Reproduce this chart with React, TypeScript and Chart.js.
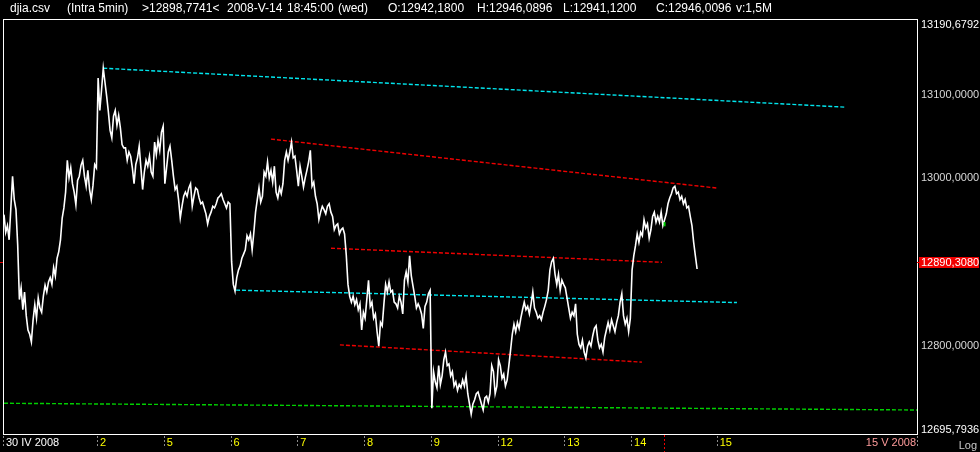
import React, { useEffect, useRef } from "react";
import { Chart, registerables } from "chart.js";

Chart.register(...registerables);

// ---- Data: DJIA, 10-minute samples (one array per session) ----
const pricesApr30May1 = [
  12955, 12934, 12942, 12925, 12963, 13001, 12973, 12961, 12919, 12854,
  12868, 12842, 12863, 12835, 12818, 12813, 12804, 12830, 12848, 12832,
  12856, 12844, 12839, 12858, 12871, 12863, 12875, 12880, 12872, 12892,
  12882, 12903, 12911, 12925, 12951, 12963, 12982, 13020, 12999, 13011,
  12992, 12982, 12967, 12996, 13001, 13014, 13020, 13001, 12989, 13008,
  12985, 12973, 12990, 13015, 13011,
];
const pricesMay2 = [
  13119, 13080, 13105, 13131, 13114,
  13097, 13078, 13056, 13047, 13073, 13080, 13062, 13074, 13059, 13039,
  13035, 13035, 13020, 13030, 13025, 13011, 12992, 13015, 13023, 13037,
  13011, 12985, 13006, 13020, 13013, 13025, 13006, 13001, 13042, 13027,
  13044, 13032, 13054, 13061,
];
const pricesMay5 = [
  12992, 13011, 13030, 13037, 13020, 13001,
  12985, 12989, 12973, 12951, 12965, 12977, 12982, 12977, 12987, 12992,
  12965, 12977, 12987, 12985, 12975, 12968, 12970, 12963, 12956, 12944,
  12953, 12958, 12965, 12963, 12968, 12975, 12977, 12980, 12973, 12968,
  12963, 12970, 12968,
];
const pricesMay6 = [
  12899, 12872, 12864, 12880, 12889, 12894, 12903,
  12908, 12913, 12930, 12925, 12932, 12913, 12934, 12958, 12973, 12987,
  12970, 12977, 13006, 13001, 13018, 12999, 13008, 12994, 13013, 12982,
  12975, 12987, 12980, 12992, 13020, 13030, 13020, 13030, 13042, 13023,
  13025, 13008,
];
const pricesMay7 = [
  12989, 13013, 13001, 12988, 12999, 13008, 13018, 13032,
  12989, 12994, 12977, 12968, 12949, 12958, 12965, 12961, 12956, 12965,
  12968, 12958, 12953, 12937, 12942, 12944, 12932, 12937, 12939, 12932,
  12907, 12872, 12858, 12851, 12858, 12848, 12854, 12842, 12849, 12818,
  12839,
];
const pricesMay8 = [
  12832, 12854, 12877, 12846, 12851, 12832, 12837, 12816, 12799,
  12827, 12823, 12849, 12872, 12863, 12875, 12863, 12865, 12851, 12849,
  12844, 12858, 12851, 12837, 12877, 12887, 12875, 12906, 12882, 12870,
  12858, 12844, 12849, 12844, 12837, 12820, 12846, 12851, 12861, 12865,
];
const pricesMay9 = [
  12726, 12769, 12757, 12750, 12776, 12754, 12764, 12783, 12792, 12776,
  12778, 12764, 12769, 12752, 12757, 12747, 12754, 12750, 12759, 12752,
  12764, 12743, 12731, 12719, 12731, 12736, 12743, 12745, 12738, 12731,
  12724, 12738, 12740, 12733, 12743, 12776, 12769, 12743, 12752,
];
const pricesMay12 = [
  12783,
  12776, 12761, 12766, 12752, 12759, 12776, 12794, 12813, 12825, 12816,
  12827, 12820, 12832, 12842, 12851, 12842, 12846, 12837, 12849, 12863,
  12844, 12839, 12832, 12835, 12830, 12839, 12846, 12854, 12865, 12889,
  12899, 12903, 12884, 12872, 12884, 12865, 12877, 12872,
];
const pricesMay13 = [
  12868, 12856,
  12844, 12832, 12839, 12835, 12849, 12813, 12801, 12797, 12806, 12792,
  12785, 12799, 12804, 12799, 12811, 12820, 12823, 12806, 12797, 12801,
  12792, 12809, 12818, 12827, 12818, 12830, 12823, 12816, 12827, 12835,
  12851, 12861, 12835, 12825, 12832, 12816, 12832,
];
const pricesMay14 = [
  12889, 12906, 12918,
  12932, 12922, 12934, 12930, 12949, 12939, 12944, 12927, 12937, 12953,
  12958, 12946, 12953, 12946, 12958, 12942, 12949, 12956, 12968, 12975,
  12980, 12987, 12989, 12980, 12982, 12973, 12977, 12968, 12973, 12963,
  12965, 12953, 12942, 12922, 12906, 12890.308,
];

// Day separators (in 10-minute bar units) and their labels
const dayTickBars = [0, 55, 94, 133, 172, 211, 250, 289, 328, 367, 417];
const dayTickLabels = ["30 IV 2008", "2", "5", "6", "7", "8", "9", "12", "13", "14", "15"];
const endDateLabel = "15 V 2008";
const xMaxBar = 533.5;

// Price axis (logarithmic)
const yMin = 12695.7936;
const yMax = 13190.6792;
const yTickValues = [13100, 13000, 12800];
const lastPrice = 12890.308;
const cursorPrice = 12898.7741;

// Selected bar (title info)
const selectedBar = 386;
const selectedOpen = 12942.18;
const selectedHigh = 12946.0896;
const selectedLow = 12941.12;
const selectedClose = 12946.0096;
const titleFile = "djia.csv";
const titleInterval = "(Intra 5min)";
const titleDate = "2008-V-14";
const titleTime = "18:45:00";
const titleDay = "(wed)";
const titleVolume = "v:1,5M";

// Trend lines: [bar, price] end points
const trendCyanTop = [[58, 13131], [491, 13084]];
const trendRedUpper = [[156, 13045.5], [416.6, 12986.8]];
const trendRedMid = [[191.1, 12915.0], [384.5, 12898.3]];
const trendRedLow = [[196.3, 12800.5], [372.8, 12780.2]];
const trendCyanMid = [[135.6, 12865.2], [428.3, 12850.5]];
const trendGreen = [[0, 12731.8], [533.5, 12723.9]];

const fmt = (v: number) => v.toFixed(4).replace(".", ",");

const FONT = '"Liberation Sans", Arial, sans-serif';
const CYAN = "#00e6ee";
const RED = "#f00000";
const GREEN = "#00d000";

const overlayPlugin = {
  id: "overlay",
  beforeDraw(chart: any) {
    const ctx = chart.ctx;
    ctx.save();
    ctx.fillStyle = "#000";
    ctx.fillRect(0, 0, chart.width, chart.height);
    ctx.restore();
  },
  afterDraw(chart: any) {
    const ctx: CanvasRenderingContext2D = chart.ctx;
    const a = chart.chartArea;
    const xs = chart.scales.x;
    const ys = chart.scales.y;
    ctx.save();

    // frame
    ctx.strokeStyle = "#ffffff";
    ctx.lineWidth = 1;
    ctx.setLineDash([]);
    ctx.strokeRect(a.left - 0.5, a.top + 0.5, a.right - a.left + 1, a.bottom - a.top);

    // title
    ctx.fillStyle = "#ffffff";
    ctx.font = `12px ${FONT}`;
    ctx.textBaseline = "alphabetic";
    ctx.textAlign = "left";
    const titleParts: [string, number][] = [
      [titleFile, 10],
      [titleInterval, 67],
      [`>${fmt(cursorPrice)}<`, 142],
      [titleDate, 227],
      [titleTime, 287],
      [titleDay, 338],
      [`O:${fmt(selectedOpen)}`, 388],
      [`H:${fmt(selectedHigh)}`, 477],
      [`L:${fmt(selectedLow)}`, 563],
      [`C:${fmt(selectedClose)}`, 656],
      [titleVolume, 736],
    ];
    titleParts.forEach(([t, x]) => ctx.fillText(t, x, 12));

    // y labels
    const lx = a.right + 4;
    ctx.font = `11px ${FONT}`;
    ctx.fillStyle = "#ffffff";
    ctx.fillText(fmt(yMax), lx, a.top + 9);
    ctx.fillText(fmt(yMin), lx, a.bottom - 1);
    ctx.fillStyle = "#d8d8d8";
    yTickValues.forEach((v) => {
      const py = ys.getPixelForValue(v);
      ctx.fillText(fmt(v), lx, Math.round(py) + 4);
    });

    // current price marker
    const cy = Math.round(ys.getPixelForValue(cursorPrice));
    ctx.fillStyle = RED;
    ctx.fillRect(a.right + 2, cy - 5, chart.width - a.right - 3, 11);
    ctx.fillRect(a.right, cy, 3, 1);
    ctx.fillRect(0, cy, 3, 1);
    ctx.fillStyle = "#ffffff";
    ctx.fillText(fmt(lastPrice), lx, cy + 4);

    // x axis ticks and labels
    ctx.strokeStyle = "#8c8c8c";
    ctx.setLineDash([2, 2]);
    ctx.lineWidth = 1;
    dayTickBars.forEach((b, i) => {
      const px = xs.getPixelForValue(b);
      const tx = Math.round(px) - 0.5;
      ctx.beginPath();
      ctx.moveTo(tx, a.bottom + 2);
      ctx.lineTo(tx, a.bottom + 14);
      ctx.stroke();
      ctx.fillStyle = i === 0 ? "#ffffff" : "#ffff00";
      ctx.fillText(dayTickLabels[i], px + 2, a.bottom + 12);
    });
    // right end tick + end date label
    ctx.beginPath();
    ctx.moveTo(a.right + 0.5, a.bottom + 2);
    ctx.lineTo(a.right + 0.5, a.bottom + 14);
    ctx.stroke();
    ctx.textAlign = "right";
    ctx.fillStyle = "#ff9c9c";
    ctx.fillText(endDateLabel, a.right - 1, a.bottom + 12);

    // selected bar marker
    const sx = Math.floor(xs.getPixelForValue(selectedBar)) + 0.5;
    ctx.strokeStyle = RED;
    ctx.beginPath();
    ctx.moveTo(sx, a.bottom + 1);
    ctx.lineTo(sx, chart.height);
    ctx.stroke();

    // Log
    ctx.setLineDash([]);
    ctx.fillStyle = "#c8c8c8";
    ctx.fillText("Log", chart.width - 3, chart.height - 3);

    ctx.restore();
  },
};

export default function App() {
  const ref = useRef<HTMLCanvasElement | null>(null);

  useEffect(() => {
    if (!ref.current) return;
    const prices = [
      ...pricesApr30May1, ...pricesMay2, ...pricesMay5, ...pricesMay6, ...pricesMay7,
      ...pricesMay8, ...pricesMay9, ...pricesMay12, ...pricesMay13, ...pricesMay14,
    ];
    const toPts = (arr: number[][]) => arr.map(([x, y]) => ({ x, y }));
    const trend = (pts: number[][], color: string) => ({
      data: toPts(pts),
      borderColor: color,
      borderWidth: 1.4,
      borderDash: [4, 2],
      pointRadius: 0,
    });
    const chart = new Chart(ref.current, {
      type: "line",
      data: {
        datasets: [
          {
            data: [
              { x: selectedBar, y: selectedLow },
              { x: selectedBar, y: selectedHigh },
            ],
            borderColor: GREEN,
            borderWidth: 2,
            pointRadius: 0,
          },
          {
            data: prices.map((p, i) => ({ x: i, y: p })),
            borderColor: "#ffffff",
            borderWidth: 1.6,
            pointRadius: 0,
          },
          trend(trendCyanTop, CYAN),
          trend(trendRedUpper, RED),
          trend(trendRedMid, RED),
          trend(trendRedLow, RED),
          trend(trendCyanMid, CYAN),
          trend(trendGreen, GREEN),
        ] as any,
      },
      options: {
        responsive: false,
        animation: false,
        events: [],
        layout: { padding: { left: 4, right: 63, top: 19, bottom: 18 } },
        elements: { line: { tension: 0 }, point: { radius: 0 } },
        plugins: {
          legend: { display: false },
          tooltip: { enabled: false },
          title: { display: false },
        },
        scales: {
          x: { type: "linear", min: 0, max: xMaxBar, display: false, bounds: "data" },
          y: { type: "logarithmic", min: yMin, max: yMax, display: false, bounds: "data" },
        },
      } as any,
      plugins: [overlayPlugin],
    });
    return () => chart.destroy();
  }, []);

  return (
    <div style={{ position: "fixed", left: 0, top: 0, width: 980, height: 452, background: "#000" }}>
      <canvas ref={ref} width={980} height={452} style={{ display: "block", width: 980, height: 452 }} />
    </div>
  );
}
